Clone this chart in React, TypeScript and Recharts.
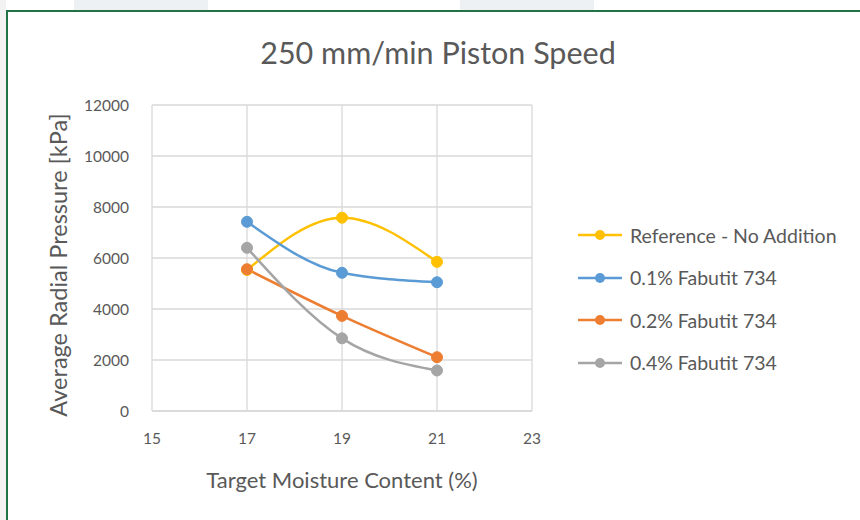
import React from "react";
import {
  LineChart,
  Line,
  XAxis,
  YAxis,
  CartesianGrid,
  Legend,
  Label,
} from "recharts";

// Target moisture content (%) on the x axis
const moisture = [17, 19, 21];

// Average radial pressure [kPa] per series
const referenceNoAddition = [5530, 7580, 5850];
const fabutit01 = [7420, 5420, 5050];
const fabutit02 = [5560, 3730, 2110];
const fabutit04 = [6400, 2850, 1590];

const xTicks = [15, 17, 19, 21, 23];
const yTicks = [0, 2000, 4000, 6000, 8000, 10000, 12000];

const seriesNames = [
  "Reference - No Addition",
  "0.1% Fabutit 734",
  "0.2% Fabutit 734",
  "0.4% Fabutit 734",
];
const seriesColors = ["#FFC000", "#5B9BD5", "#ED7D31", "#A5A5A5"];
const seriesValues = [referenceNoAddition, fabutit01, fabutit02, fabutit04];

const data = moisture.map((m, i) => ({
  moisture: m,
  s0: seriesValues[0][i],
  s1: seriesValues[1][i],
  s2: seriesValues[2][i],
  s3: seriesValues[3][i],
}));

const FONT = "Lato, 'Open Sans', sans-serif";
const TEXT = "#595959";
const GRID = "#D9D9D9";

const LegendContent = (props: any) => {
  const { payload } = props;
  // keep the series order, not the alphabetical one
  const items = seriesNames
    .map((n) => (payload || []).find((e: any) => e.value === n))
    .filter(Boolean);
  return (
    <div style={{ fontFamily: FONT }}>
      {items.map((entry: any) => (
        <div
          key={entry.value}
          style={{ display: "flex", alignItems: "center", height: 42.5 }}
        >
          <svg width={44} height={14} style={{ marginRight: 8 }}>
            <line x1={0} y1={7} x2={44} y2={7} stroke={entry.color} strokeWidth={2.5} />
            <circle cx={22} cy={7} r={5} fill={entry.color} />
          </svg>
          <span style={{ color: TEXT, fontSize: 19.5 }}>{entry.value}</span>
        </div>
      ))}
    </div>
  );
};

export default function App() {
  return (
    <div
      style={{
        position: "absolute",
        left: 0,
        top: 0,
        width: 860,
        height: 520,
        background: "#fff",
        overflow: "hidden",
      }}
    >
      {/* spreadsheet surroundings */}
      <div style={{ position: "absolute", left: 0, top: 0, width: 6, height: 520, background: "#F2F2F2" }} />
      <div style={{ position: "absolute", left: 74, top: 0, width: 134, height: 10, background: "#EEF1F3" }} />
      <div style={{ position: "absolute", left: 460, top: 0, width: 134, height: 10, background: "#EEF1F3" }} />
      <div
        style={{
          position: "absolute",
          left: 6,
          top: 10,
          width: 860,
          height: 520,
          borderLeft: "2px solid #217346",
          borderTop: "2px solid #217346",
          boxSizing: "border-box",
        }}
      />
      <div
        style={{
          position: "absolute",
          left: 0,
          top: 33,
          width: 876,
          textAlign: "center",
          fontFamily: FONT,
          fontSize: 30.5,
          lineHeight: "38px",
          color: TEXT,
        }}
      >
        250 mm/min Piston Speed
      </div>
      <div style={{ position: "absolute", left: 0, top: 0 }}>
        <LineChart
          width={860}
          height={520}
          data={data}
          margin={{ top: 105, right: 328, bottom: 29, left: 40 }}
        >
          <CartesianGrid stroke={GRID} strokeWidth={1.3} />
          <XAxis
            type="number"
            dataKey="moisture"
            domain={[15, 23]}
            ticks={xTicks}
            height={80}
            axisLine={{ stroke: GRID, strokeWidth: 1.3 }}
            tickLine={false}
            tickSize={0}
            tickMargin={22}
            tick={{ fill: TEXT, fontSize: 15.5, fontFamily: FONT }}
          >
            <Label
              value="Target Moisture Content (%)"
              position="insideBottom"
              offset={3}
              fill={TEXT}
              fontSize={22}
              fontFamily={FONT}
            />
          </XAxis>
          <YAxis
            type="number"
            domain={[0, 12000]}
            ticks={yTicks}
            width={112}
            axisLine={false}
            tickLine={false}
            tickSize={0}
            tickMargin={23}
            tick={{ fill: TEXT, fontSize: 15.5, fontFamily: FONT }}
          >
            <Label
              content={(p: any) => {
                const vb = p.viewBox || {};
                const cx = vb.x + 18;
                const cy = vb.y + vb.height / 2 + 7;
                return (
                  <text
                    x={cx}
                    y={cy}
                    transform={`rotate(-90 ${cx} ${cy})`}
                    textAnchor="middle"
                    dominantBaseline="central"
                    fill={TEXT}
                    fontSize={23.5}
                    fontFamily={FONT}
                  >
                    Average Radial Pressure [kPa]
                  </text>
                );
              }}
            />
          </YAxis>
          <Legend
            layout="vertical"
            align="center"
            verticalAlign="middle"
            itemSorter={null as any}
            content={<LegendContent />}
            wrapperStyle={{ position: "absolute", left: 578, top: 214, width: 282 }}
          />
          {seriesNames.map((name, i) => (
            <Line
              key={name}
              name={name}
              type="monotone"
              dataKey={`s${i}`}
              stroke={seriesColors[i]}
              strokeWidth={2.5}
              dot={{ r: 5.5, fill: seriesColors[i], stroke: seriesColors[i], strokeWidth: 1 }}
              activeDot={false}
              isAnimationActive={false}
            />
          ))}
        </LineChart>
      </div>
    </div>
  );
}
